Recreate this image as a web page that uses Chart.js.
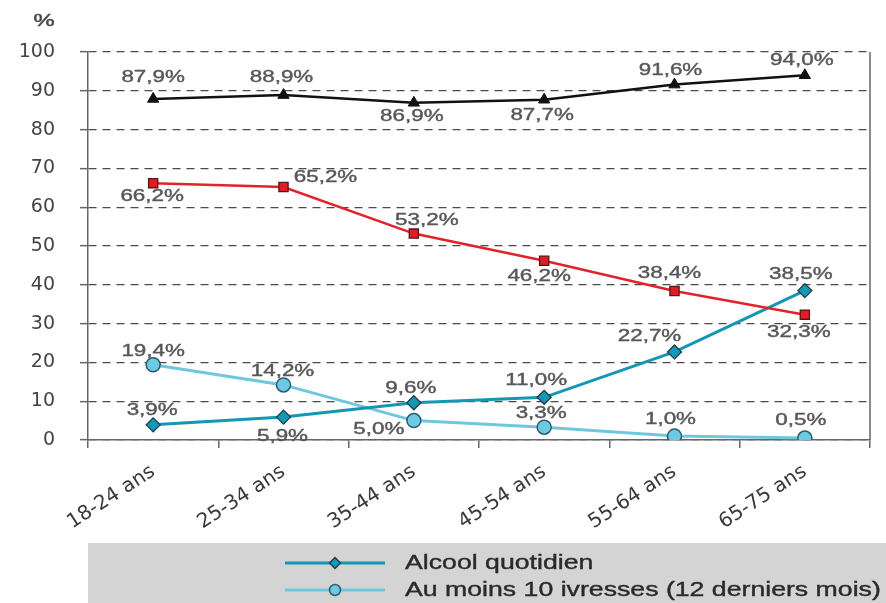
<!DOCTYPE html>
<html>
<head>
<meta charset="utf-8">
<script src="https://cdn.jsdelivr.net/npm/chart.js@4/dist/chart.umd.min.js"></script>
<style>
  html, body { margin: 0; background: #fff; }
  #wrap { width: 886px; height: 603px; position: relative; }
</style>
</head>
<body>
<div id="wrap"><canvas id="chart"></canvas></div>
<script>
// DATA
const ages = ['18-24 ans', '25-34 ans', '35-44 ans', '45-54 ans', '55-64 ans', '65-75 ans'];
const alcoolAnnee = [87.9, 88.9, 86.9, 87.7, 91.6, 94.0];
const alcoolHebdo = [66.2, 65.2, 53.2, 46.2, 38.4, 32.3];
const alcoolQuotidien = [3.9, 5.9, 9.6, 11.0, 22.7, 38.5];
const ivresses = [19.4, 14.2, 5.0, 3.3, 1.0, 0.5];
const yTicks = [0, 10, 20, 30, 40, 50, 60, 70, 80, 90, 100];

// where each value label sits relative to its point [dx, dy]
const labelOffsets = [
  [[0, -21], [-2, -17], [-2, 14], [-2, 16], [-4, -14], [-3, -15]],
  [[-1, 13], [42, -9], [13, -13], [-5, 16], [-5, -17], [-6, 18]],
  [[-1, -14], [-1, 19], [-3, -14], [-8, -17], [-25, -15], [-4, -16]],
  [[0, -13], [-1, -13], [-35, 9], [-3, -14], [-4, -17], [-4, -17]]
];

const fmt = v => v.toFixed(1).replace('.', ',') + '%';

// the source picture is stretched sideways, so text is drawn wide
function wideText(ctx, txt, x, y, sx) {
  ctx.save();
  ctx.translate(x, y);
  ctx.scale(sx, 1);
  ctx.fillText(txt, 0, 0);
  ctx.strokeText(txt, 0, 0);
  ctx.restore();
}

// value labels
const valueLabels = {
  id: 'valueLabels',
  afterDatasetsDraw(chart) {
    const ctx = chart.ctx;
    ctx.save();
    ctx.font = '16px "Liberation Sans", Arial, sans-serif';
    ctx.fillStyle = '#585858';
    ctx.strokeStyle = '#585858';
    ctx.lineWidth = 0.4;
    ctx.textAlign = 'center';
    ctx.textBaseline = 'middle';
    chart.data.datasets.forEach((ds, i) => {
      const meta = chart.getDatasetMeta(i);
      meta.data.forEach((pt, j) => {
        const o = labelOffsets[i][j];
        wideText(ctx, fmt(ds.data[j]), pt.x + o[0], pt.y + o[1], 1.4);
      });
    });
    ctx.restore();
  }
};

// frame, "%" unit and the grey legend band
const decor = {
  id: 'decor',
  afterDraw(chart) {
    const ctx = chart.ctx;
    const a = chart.chartArea;
    ctx.save();
    ctx.strokeStyle = '#666';
    ctx.lineWidth = 1.5;
    ctx.beginPath();
    ctx.moveTo(a.right, a.top);
    ctx.lineTo(a.right, a.bottom);
    ctx.stroke();

    ctx.font = '17px "Liberation Sans", sans-serif';
    ctx.fillStyle = '#4a4a4a';
    ctx.strokeStyle = '#4a4a4a';
    ctx.lineWidth = 0.5;
    ctx.textAlign = 'center';
    ctx.textBaseline = 'middle';
    wideText(ctx, '%', 44, 21, 1.4);

    // legend
    const top = 543;
    ctx.fillStyle = '#d4d4d4';
    ctx.fillRect(a.left, top, chart.width - a.left, chart.height - top);
    [2, 3].forEach((idx, k) => {
      const ds = chart.data.datasets[idx];
      const y = top + 20 + k * 27;
      ctx.strokeStyle = ds.borderColor;
      ctx.lineWidth = ds.borderWidth;
      ctx.beginPath();
      ctx.moveTo(285, y);
      ctx.lineTo(385, y);
      ctx.stroke();
      ctx.fillStyle = ds.pointBackgroundColor;
      ctx.strokeStyle = ds.pointBorderColor;
      ctx.lineWidth = ds.pointBorderWidth;
      Chart.helpers.drawPoint(ctx, { pointStyle: ds.pointStyle, radius: ds.pointRadius - 1.5, borderWidth: ds.pointBorderWidth, rotation: 0 }, 335, y);
      ctx.fillStyle = '#2a2a2a';
      ctx.strokeStyle = '#2a2a2a';
      ctx.lineWidth = 0.4;
      ctx.font = '21px "Liberation Sans", Arial, sans-serif';
      ctx.textAlign = 'left';
      ctx.textBaseline = 'middle';
      wideText(ctx, ds.label, 405, y, 1.27);
    });
    ctx.restore();
  }
};

const ctx = document.getElementById('chart').getContext('2d');
new Chart(ctx, {
  type: 'line',
  data: {
    labels: ages,
    datasets: [
      {
        label: "Alcool dans l'année",
        data: alcoolAnnee,
        borderColor: '#111',
        borderWidth: 2.5,
        pointStyle: 'triangle',
        pointRadius: 6.5,
        pointBackgroundColor: '#111',
        pointBorderColor: '#111',
        pointBorderWidth: 1
      },
      {
        label: 'Alcool hebdomadaire',
        data: alcoolHebdo,
        borderColor: '#e2232b',
        borderWidth: 2.5,
        pointStyle: 'rect',
        pointRadius: 6.5,
        pointBackgroundColor: '#e01d26',
        pointBorderColor: '#5a1414',
        pointBorderWidth: 1.3
      },
      {
        label: 'Alcool quotidien',
        data: alcoolQuotidien,
        borderColor: '#1496b5',
        borderWidth: 3,
        pointStyle: 'rectRot',
        pointRadius: 7,
        pointBackgroundColor: '#1597b6',
        pointBorderColor: '#1c3d48',
        pointBorderWidth: 1.3
      },
      {
        label: 'Au moins 10 ivresses (12 derniers mois)',
        data: ivresses,
        borderColor: '#6ec7df',
        borderWidth: 3,
        pointStyle: 'circle',
        pointRadius: 7,
        pointBackgroundColor: '#6dcae3',
        pointBorderColor: '#2d5d6c',
        pointBorderWidth: 1.5
      }
    ]
  },
  options: {
    responsive: true,
    maintainAspectRatio: false,
    animation: false,
    layout: { padding: { left: 0, right: 16, top: 52, bottom: 63 } },
    plugins: { legend: { display: false }, tooltip: { enabled: false } },
    scales: {
      x: {
        offset: true,
        afterFit(scale) { scale.height = 100; },
        grid: { offset: true, drawOnChartArea: false, color: '#666', lineWidth: 1.5, tickLength: 8 },
        border: { color: '#666', width: 1.5 },
        ticks: {
          minRotation: 33,
          maxRotation: 33,
          padding: 12,
          color: '#3a3a3a',
          font: { family: '"DejaVu Sans", sans-serif', size: 20 }
        }
      },
      y: {
        min: 0,
        max: 100,
        afterFit(scale) { scale.width = 88; },
        afterBuildTicks(scale) { scale.ticks = yTicks.map(v => ({ value: v })); },
        grid: { color: '#4a4a4a', lineWidth: 1.3, tickLength: 8, tickColor: '#666', tickWidth: 1.5 },
        border: { color: '#666', width: 1.5, dash: [8, 6] },
        ticks: {
          padding: 25,
          color: '#444',
          font: { family: '"DejaVu Sans", sans-serif', size: 19 }
        }
      }
    }
  },
  plugins: [valueLabels, decor]
});
</script>
</body>
</html>
